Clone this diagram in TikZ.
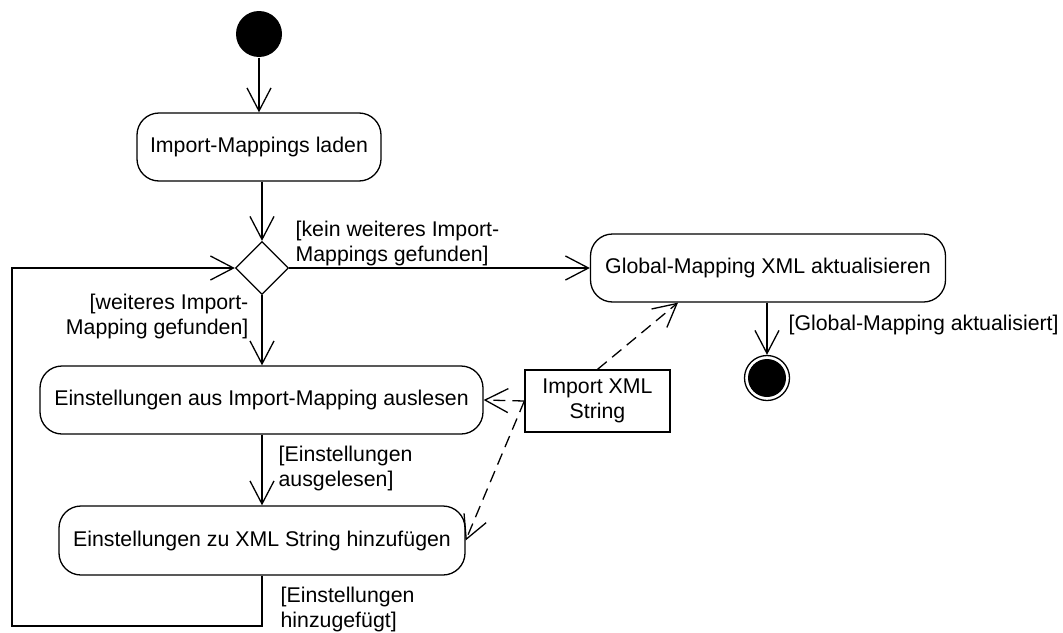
\documentclass[tikz,border=0pt]{standalone}
\usepackage{fontspec}
\setmainfont{Liberation Sans}
\usetikzlibrary{arrows.meta,shapes.geometric,calc}
\begin{document}
\begin{tikzpicture}[x=1pt,y=-1pt,
  font=\fontsize{21.3}{24.5}\selectfont,
  line width=1.3pt,
  action/.style={draw, rounded corners=22pt, inner sep=0pt},
  objbox/.style={draw, inner sep=0pt, align=center},
  decision/.style={draw, diamond, minimum width=53pt, minimum height=53pt, inner sep=0pt},
  startnode/.style={circle, fill=black, minimum size=46pt, inner sep=0pt},
  endnode/.style={circle, draw, minimum size=45pt, inner sep=0pt},
  flow/.style={-{Straight Barb[length=23pt,width=24pt,line width=1.3pt]}},
  objflow/.style={flow, dash pattern=on 12pt off 7pt},
  guard/.style={inner sep=0pt, align=left, anchor=base west}
]
\useasboundingbox (0,0) rectangle (1063,632);

% nodes
\node[startnode] (start) at (259,34) {};
\node[action, minimum width=244pt, minimum height=68pt] (load) at (259,147) {Import-Mappings laden};
\node[decision] (dec) at (262,268) {};
\node[action, minimum width=355pt, minimum height=68pt] (glob) at (768,268) {Global-Mapping XML aktualisieren};
\node[endnode] (final) at (767,378) {};
\fill (final.center) circle (19);
\node[action, minimum width=443pt, minimum height=68pt] (read) at (261.5,400) {Einstellungen aus Import-Mapping auslesen};
\node[objbox, minimum width=145pt, minimum height=62pt] (xml) at (597.5,401) {Import XML\\String};
\node[action, minimum width=406pt, minimum height=69pt] (add) at (262,540.5) {Einstellungen zu XML String hinzufügen};
\coordinate (loop) at (12,626);

% control flow
\draw[flow] (start.south -| load.north) -- (load.north);
\draw[flow] (load.south -| dec.north) -- (dec.north);
\draw[flow] (dec.east) -- (glob.west);
\draw[flow] (dec.south) -- (dec.south |- read.north);
\draw[flow] (read.south -| add.north) -- (add.north);
\draw[flow] (add.south) |- (loop) |- (dec.west);
\draw[flow] (glob.south -| final.north) -- (final.north);

% object flow
\draw[objflow] (xml.west) -- (read.east);
\draw[objflow] (xml.north) -- ([xshift=-90pt]glob.south);
\draw[objflow] (xml.west) -- (add.east);

% guards (anchored at the baseline of the last line)
\node[guard] (g1) at (295,261) {[kein weiteres Import-\\Mappings gefunden]};
\node[guard, align=right, anchor=base east] (g2) at (249,334) {[weiteres Import-\\Mapping gefunden]};
\node[guard] (g3) at (278,486) {[Einstellungen\\ausgelesen]};
\node[guard] (g4) at (280,627) {[Einstellungen\\hinzugefügt]};
\node[guard] (g5) at (788,330) {[Global-Mapping aktualisiert]};
\end{tikzpicture}
\end{document}
